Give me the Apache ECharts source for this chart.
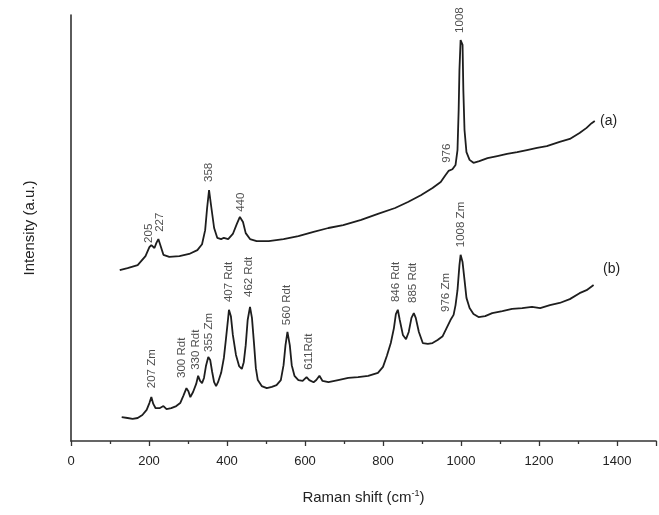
<!DOCTYPE html>
<html>
<head>
<meta charset="utf-8">
<style>html,body{margin:0;padding:0;background:#fff}#c{width:659px;height:515px}</style>
<script src="https://cdn.jsdelivr.net/npm/echarts@6/dist/echarts.min.js"></script>
</head>
<body>
<div id="c"></div>
<script>
// spectrum (a): [Raman shift, intensity a.u.]
const spectrumA = [
  [125, 40.1], [145, 40.6], [171, 41.3], [191, 43.4], [201, 45.5], [206, 46.0], [214, 45.3],
  [219, 46.5], [224, 47.4], [229, 46.0], [237, 43.7], [252, 43.2], [278, 43.4], [303, 43.9],
  [324, 44.8], [336, 46.2], [344, 49.5], [349, 54.7], [354, 58.9], [359, 55.4], [367, 50.0],
  [375, 47.7], [385, 47.4], [392, 47.7], [403, 47.4], [415, 48.6], [425, 50.9], [433, 52.6],
  [441, 51.4], [448, 48.8], [459, 47.4], [476, 46.9], [507, 46.9], [545, 47.4], [583, 48.1],
  [622, 49.1], [660, 50.0], [698, 50.7], [744, 51.9], [787, 53.3], [831, 54.7], [864, 56.1],
  [897, 57.7], [927, 59.4], [948, 60.8], [960, 62.4], [968, 63.4], [978, 63.8], [986, 64.8],
  [991, 68.3], [994, 77.7], [996, 87.1], [999, 94.1], [1004, 93.0], [1006, 82.4], [1009, 73.0],
  [1014, 67.8], [1022, 66.0], [1032, 65.3], [1047, 65.7], [1068, 66.4], [1093, 66.9],
  [1118, 67.4], [1144, 67.8], [1169, 68.3], [1195, 68.8], [1220, 69.2], [1253, 70.2],
  [1279, 70.9], [1304, 72.3], [1322, 73.5], [1335, 74.6], [1343, 75.1]
];

// spectrum (b)
const spectrumB = [
  [130, 5.6], [145, 5.4], [158, 5.2], [171, 5.4], [183, 6.1], [194, 7.3], [201, 8.9], [206, 10.3],
  [211, 8.7], [217, 7.7], [227, 7.7], [237, 8.2], [245, 7.5], [257, 7.7], [270, 8.2], [280, 8.9],
  [288, 10.6], [296, 12.4], [301, 11.7], [306, 10.3], [313, 11.5], [321, 13.4], [326, 15.3],
  [331, 14.1], [336, 13.6], [341, 14.8], [346, 17.6], [352, 19.7], [357, 19.0], [362, 16.2],
  [367, 13.8], [372, 12.9], [377, 13.8], [385, 16.0], [392, 19.5], [397, 23.7], [403, 28.9],
  [405, 30.8], [410, 29.3], [415, 24.9], [423, 20.2], [431, 17.6], [438, 16.9], [443, 18.5],
  [448, 22.5], [453, 28.4], [459, 31.5], [464, 28.9], [469, 23.2], [474, 17.1], [479, 14.3],
  [489, 12.9], [502, 12.4], [515, 12.7], [527, 13.1], [538, 14.3], [545, 17.8], [550, 22.5],
  [555, 25.6], [561, 22.5], [566, 17.8], [573, 15.3], [583, 14.3], [594, 14.1], [604, 15.0],
  [611, 14.3], [622, 13.8], [629, 14.3], [637, 15.3], [645, 14.1], [660, 13.8], [685, 14.3],
  [711, 14.8], [736, 15.0], [762, 15.3], [787, 16.0], [800, 17.4], [810, 20.0], [820, 23.0],
  [828, 26.5], [833, 29.8], [838, 30.8], [843, 28.4], [851, 24.9], [859, 23.9], [866, 25.6],
  [873, 28.9], [879, 30.0], [884, 28.9], [892, 25.6], [902, 23.0], [915, 22.8], [927, 23.0],
  [940, 23.7], [953, 24.6], [963, 26.5], [973, 28.4], [981, 29.6], [986, 31.9], [991, 35.4],
  [996, 41.3], [999, 43.7], [1004, 42.0], [1009, 37.8], [1014, 33.6], [1022, 31.2], [1032, 29.8],
  [1045, 29.1], [1062, 29.3], [1080, 30.0], [1106, 30.5], [1131, 31.0], [1157, 31.2],
  [1182, 31.5], [1203, 31.2], [1228, 31.9], [1253, 32.4], [1279, 33.3], [1304, 34.7],
  [1322, 35.4], [1340, 36.6]
];

// peak annotations: [x, y of label foot, text]
const peakLabelsA = [
  [199, 46.5, '205'], [227, 49.1, '227'], [354, 60.8, '358'], [436, 53.8, '440'],
  [963, 65.3, '976'], [996, 95.8, '1008']
];
const peakLabelsB = [
  [206, 12.4, '207 Zm'], [285, 14.8, '300 Rdt'], [321, 16.7, '330 Rdt'], [354, 20.9, '355 Zm'],
  [405, 32.6, '407 Rdt'], [456, 33.8, '462 Rdt'], [553, 27.2, '560 Rdt'], [609, 16.7, '611Rdt'],
  [833, 32.6, '846 Rdt'], [876, 32.4, '885 Rdt'], [960, 30.3, '976 Zm'], [999, 45.5, '1008 Zm']
];

const xTicks = [0, 200, 400, 600, 800, 1000, 1200, 1400];

const FONT = '"Liberation Sans", Arial, sans-serif';
const ink = '#1e1e1e';

function labelSeries(list) {
  return {
    type: 'scatter',
    symbolSize: 0,
    silent: true,
    data: list.map(d => ({ value: [d[0], d[1]], name: d[2] })),
    label: {
      show: true,
      formatter: p => p.name,
      rotate: 90,
      position: [0, 0],
      align: 'left',
      verticalAlign: 'middle',
      fontFamily: FONT,
      fontSize: 11.5,
      color: '#222'
    },
    z: 5
  };
}

const chart = echarts.init(document.getElementById('c'), null, { renderer: 'canvas' });
chart.setOption({
  animation: false,
  backgroundColor: '#fff',
  grid: { left: 71, right: 0, top: 15, bottom: 74 },
  xAxis: {
    type: 'value',
    min: 0,
    max: 1500,
    interval: 200,
    name: 'Raman shift (cm{sup|-1})',
    nameLocation: 'middle',
    nameGap: 48,
    nameTextStyle: {
      fontFamily: FONT, fontSize: 15, color: '#222',
      rich: { sup: { fontSize: 9, verticalAlign: 'top', padding: [0, 0, 8, 0], fontFamily: FONT, color: '#222' } }
    },
    axisLine: { show: true, lineStyle: { color: '#333', width: 1.6 } },
    axisTick: { show: true, length: 5, lineStyle: { color: '#333', width: 1.3 } },
    minorTick: { show: true, splitNumber: 2, length: 3, lineStyle: { color: '#333', width: 1.3 } },
    axisLabel: {
      fontFamily: FONT, fontSize: 13, color: '#222', margin: 14,
      formatter: v => (xTicks.includes(v) ? String(v) : '')
    },
    splitLine: { show: false }
  },
  yAxis: {
    type: 'value',
    min: 0,
    max: 100,
    name: 'Intensity (a.u.)',
    nameLocation: 'middle',
    nameGap: 34,
    nameTextStyle: { fontFamily: FONT, fontSize: 15, color: '#222' },
    axisLine: { show: true, lineStyle: { color: '#333', width: 1.6 } },
    axisTick: { show: false },
    axisLabel: { show: false },
    splitLine: { show: false }
  },
  graphic: [
    { type: 'text', left: 600, top: 114, style: { text: '(a)', font: '14px ' + FONT, fill: '#222' } },
    { type: 'text', left: 603, top: 262, style: { text: '(b)', font: '14px ' + FONT, fill: '#222' } }
  ],
  series: [
    { type: 'line', data: spectrumA, showSymbol: false, lineStyle: { color: ink, width: 1.8 }, z: 3 },
    { type: 'line', data: spectrumB, showSymbol: false, lineStyle: { color: ink, width: 1.8 }, z: 3 },
    labelSeries(peakLabelsA),
    labelSeries(peakLabelsB)
  ]
});
</script>
</body>
</html>
